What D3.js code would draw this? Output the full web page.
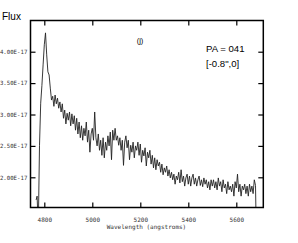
<!DOCTYPE html>
<html>
<head>
<meta charset="utf-8">
<script src="https://cdn.jsdelivr.net/npm/d3@7"></script>
<style>
  body { margin: 0; background: #fff; }
  svg { display: block; }
</style>
</head>
<body>
<script>
// spectrum, flux in units of 1E-17
var wavelength = [
  4766,4770,4775,4780,4785,4790,4795,4800,4805,4810,
  4815,4820,4825,4830,4835,4840,4845,4850,4855,4860,
  4865,4870,4875,4880,4885,4890,4895,4900,4905,4910,
  4915,4920,4925,4930,4935,4940,4945,4950,4955,4960,
  4965,4970,4975,4980,4985,4990,4995,5000,5005,5010,
  5015,5020,5025,5030,5035,5040,5045,5050,5055,5060,
  5065,5070,5075,5080,5085,5090,5095,5100,5105,5110,
  5115,5120,5125,5130,5135,5140,5145,5150,5155,5160,
  5165,5170,5175,5180,5185,5190,5195,5200,5205,5210,
  5215,5220,5225,5230,5235,5240,5245,5250,5255,5260,
  5265,5270,5275,5280,5285,5290,5295,5300,5305,5310,
  5315,5320,5325,5330,5335,5340,5345,5350,5355,5360,
  5365,5370,5375,5380,5385,5390,5395,5400,5405,5410,
  5415,5420,5425,5430,5435,5440,5445,5450,5455,5460,
  5465,5470,5475,5480,5485,5490,5495,5500,5505,5510,
  5515,5520,5525,5530,5535,5540,5545,5550,5555,5560,
  5565,5570,5575,5580,5585,5590,5595,5600,5605,5610,
  5615,5620,5625,5630,5635,5640,5645,5650,5655,5660,
  5665,5670,5675,5680,5683
];
var flux = [
  1.64,1.70,1.20,2.51,3.18,3.46,3.79,4.11,4.30,3.95,
  3.68,3.63,3.42,3.23,3.29,3.13,3.31,3.17,3.26,3.10,
  3.20,3.04,3.17,2.94,3.07,2.85,3.02,2.91,3.04,2.82,
  3.01,2.85,2.98,2.75,2.94,2.69,2.88,2.63,2.82,2.59,
  2.78,2.66,2.88,2.56,2.75,2.40,2.69,2.78,2.59,3.04,
  2.63,2.50,2.69,2.43,2.59,2.35,2.63,2.31,2.56,2.43,
  2.66,2.50,2.72,2.28,2.75,2.59,2.78,2.59,2.66,2.51,
  2.63,2.43,2.59,2.19,2.56,2.66,2.47,2.59,2.28,2.51,
  2.40,2.56,2.31,2.50,2.43,2.56,2.35,2.53,2.24,2.43,
  2.34,2.47,2.18,2.40,2.31,2.43,2.21,2.35,2.15,2.31,
  2.12,2.28,2.18,2.24,2.08,2.21,2.04,2.15,2.08,2.18,
  2.02,2.12,1.99,2.08,1.96,2.05,1.89,2.02,1.96,2.08,
  1.91,2.12,1.93,2.02,1.86,1.99,2.05,1.89,2.02,1.86,
  1.99,2.05,1.89,1.99,1.86,1.96,2.02,1.87,1.96,1.85,
  1.99,1.89,1.96,1.83,1.93,1.80,1.96,1.86,1.96,1.83,
  1.93,1.80,1.99,1.86,1.93,1.77,1.96,1.83,1.89,1.74,
  1.93,1.80,1.86,1.77,1.89,1.70,1.93,1.83,2.05,1.77,
  1.89,1.70,1.86,1.80,1.89,1.74,1.86,1.70,1.89,1.77,
  1.86,1.74,1.96,1.87,1.20
];

var xTicks = [4800, 5000, 5200, 5400, 5600];
var yTicks = [2.0, 2.5, 3.0, 3.5, 4.0];
var yTickLabels = ["2.00E-17", "2.50E-17", "3.00E-17", "3.50E-17", "4.00E-17"];

var chart = function() {
  var width = 298, height = 243;
  var x0 = 30.5, x1 = 263.3, y0 = 20.5, y1 = 207.5;

  var svg = d3.select("body").append("svg")
    .attr("width", width)
    .attr("height", height);

  var x = d3.scaleLinear().domain([4742.5, 5712.5]).range([x0, x1]);
  var y = d3.scaleLinear().domain([1.519, 4.497]).range([y1, y0]);

  svg.append("clipPath").attr("id", "plot")
    .append("rect")
    .attr("x", x0).attr("y", y0)
    .attr("width", x1 - x0).attr("height", y1 - y0);

  var pts = wavelength.map(function(w, i) { return [w, flux[i]]; });

  var line = d3.line()
    .x(function(d) { return x(d[0]); })
    .y(function(d) { return y(d[1]); });

  svg.append("path")
    .datum(pts)
    .attr("clip-path", "url(#plot)")
    .attr("d", line)
    .attr("fill", "none")
    .attr("stroke", "#222")
    .attr("stroke-width", 0.9)
    .attr("stroke-linejoin", "round");

  // ticks on all four sides, pointing inward
  var tick = 5;
  var axisStyle = function(g) {
    g.select(".domain").remove();
    g.selectAll("line").attr("stroke", "#000").attr("stroke-width", 1.2);
    g.selectAll("text")
      .attr("font-family", "DejaVu Sans Mono")
      .attr("font-size", 6)
      .attr("fill", "#333");
  };

  svg.append("g")
    .attr("transform", "translate(0," + y1 + ")")
    .call(d3.axisBottom(x).tickValues(xTicks).tickSize(-tick).tickPadding(tick + 5)
      .tickFormat(d3.format("d")))
    .call(axisStyle);
  svg.append("g")
    .attr("transform", "translate(0," + y0 + ")")
    .call(d3.axisTop(x).tickValues(xTicks).tickSize(-tick).tickFormat(""))
    .call(axisStyle);
  svg.append("g")
    .attr("transform", "translate(" + x0 + ",0)")
    .call(d3.axisLeft(y).tickValues(yTicks).tickSize(-tick).tickPadding(3.2)
      .tickFormat(function(d, i) { return yTickLabels[i]; }))
    .call(axisStyle)
    .selectAll("text").attr("font-size", 5.7);
  svg.append("g")
    .attr("transform", "translate(" + x1 + ",0)")
    .call(d3.axisRight(y).tickValues(yTicks).tickSize(-tick).tickFormat(""))
    .call(axisStyle);

  // frame
  svg.append("rect")
    .attr("x", x0).attr("y", y0)
    .attr("width", x1 - x0).attr("height", y1 - y0)
    .attr("fill", "none")
    .attr("stroke", "#000")
    .attr("stroke-width", 1.5);

  svg.append("text")
    .attr("x", 146.5).attr("y", 229)
    .attr("text-anchor", "middle")
    .attr("font-family", "DejaVu Sans Mono")
    .attr("font-size", 6)
    .attr("fill", "#333")
    .text("Wavelength (angstroms)");

  svg.append("text")
    .attr("x", 2).attr("y", 20)
    .attr("font-family", "Liberation Sans")
    .attr("font-size", 10)
    .attr("fill", "#000")
    .text("Flux");

  var note = svg.append("g")
    .attr("font-family", "Liberation Sans")
    .attr("fill", "#000");
  note.append("text").attr("x", 140).attr("y", 42.5)
    .attr("text-anchor", "middle").attr("font-size", 7.5).text("(j)");
  note.append("text").attr("x", 206).attr("y", 52)
    .attr("font-size", 9.6).text("PA = 041");
  note.append("text").attr("x", 206).attr("y", 66.5)
    .attr("font-size", 9.6).text("[-0.8\",0]");
};

chart();
</script>
</body>
</html>
